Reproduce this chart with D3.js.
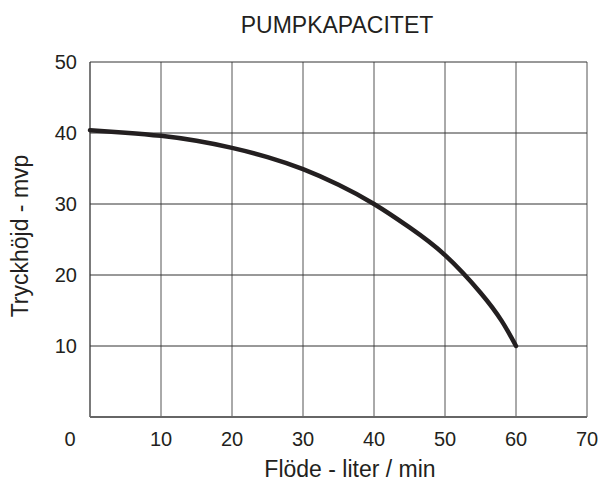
<!DOCTYPE html>
<html>
<head>
<meta charset="utf-8">
<script src="https://cdn.jsdelivr.net/npm/d3@7"></script>
<style>
  body { margin: 0; background: #fff; }
  text { font-family: "Liberation Sans", Arial, sans-serif; fill: #231f20; }
</style>
</head>
<body>
<div id="chart-area"></div>
<script>
// flow (liter/min) and head (mvp)
const flow = [0, 5, 10, 15, 20, 25, 30, 35, 40, 45, 50, 55, 58, 60];
const head = [40.4, 40.05, 39.6, 38.9, 37.9, 36.6, 34.9, 32.7, 30.0, 26.7, 22.8, 17.5, 13.5, 10.0];
const xTicks = [10, 20, 30, 40, 50, 60, 70];
const yTicks = [10, 20, 30, 40, 50];

const margin = { top: 62, right: 15, bottom: 65, left: 90 };
const height = 482 - margin.top - margin.bottom;

const svg = d3.select("#chart-area").append("svg")
  .attr("width", 602)
  .attr("height", 482);

const g = svg.append("g")
  .attr("transform", "translate(" + margin.left + "," + margin.top + ")");

const x = d3.scaleLinear().domain([0, 70]).range([0, 497]);
const y = d3.scaleLinear().domain([0, 50]).range([height, 0]);

// grid
g.selectAll(".vgrid")
  .data(xTicks)
  .enter().append("line")
  .attr("x1", d => x(d)).attr("x2", d => x(d))
  .attr("y1", 0).attr("y2", height)
  .attr("stroke", "#555").attr("stroke-width", 1);

g.selectAll(".hgrid")
  .data(yTicks)
  .enter().append("line")
  .attr("x1", 0).attr("x2", x(70))
  .attr("y1", d => y(d)).attr("y2", d => y(d))
  .attr("stroke", "#333").attr("stroke-width", 1);

// left and bottom border
g.append("line")
  .attr("x1", 0).attr("x2", 0).attr("y1", 0).attr("y2", height)
  .attr("stroke", "#333").attr("stroke-width", 1.3);
g.append("line")
  .attr("x1", 0).attr("x2", x(70)).attr("y1", height).attr("y2", height)
  .attr("stroke", "#666").attr("stroke-width", 2.2);

// tick labels
g.selectAll(".xlab")
  .data(xTicks)
  .enter().append("text")
  .attr("x", d => x(d))
  .attr("y", height + 29)
  .attr("text-anchor", "middle")
  .style("font-size", "20px")
  .text(d => d);

g.append("text")
  .attr("x", -20)
  .attr("y", height + 29)
  .attr("text-anchor", "middle")
  .style("font-size", "20px")
  .text("0");

g.selectAll(".ylab")
  .data(yTicks)
  .enter().append("text")
  .attr("x", -13)
  .attr("y", d => y(d) + 7)
  .attr("text-anchor", "end")
  .style("font-size", "20px")
  .text(d => d);

// curve
const line = d3.line()
  .x((d, i) => x(flow[i]))
  .y(d => y(d))
  .curve(d3.curveNatural);

g.append("path")
  .datum(head)
  .attr("d", line)
  .attr("fill", "none")
  .attr("stroke", "#231f20")
  .attr("stroke-width", 4.5)
  .attr("stroke-linecap", "round");

// titles
svg.append("text")
  .attr("x", 337)
  .attr("y", 33)
  .attr("text-anchor", "middle")
  .style("font-size", "23px")
  .text("PUMPKAPACITET");

svg.append("text")
  .attr("x", 350)
  .attr("y", 477)
  .attr("text-anchor", "middle")
  .style("font-size", "23px")
  .text("Flöde - liter / min");

svg.append("text")
  .attr("transform", "translate(28,236) rotate(-90)")
  .attr("text-anchor", "middle")
  .style("font-size", "23px")
  .text("Tryckhöjd - mvp");
</script>
</body>
</html>
